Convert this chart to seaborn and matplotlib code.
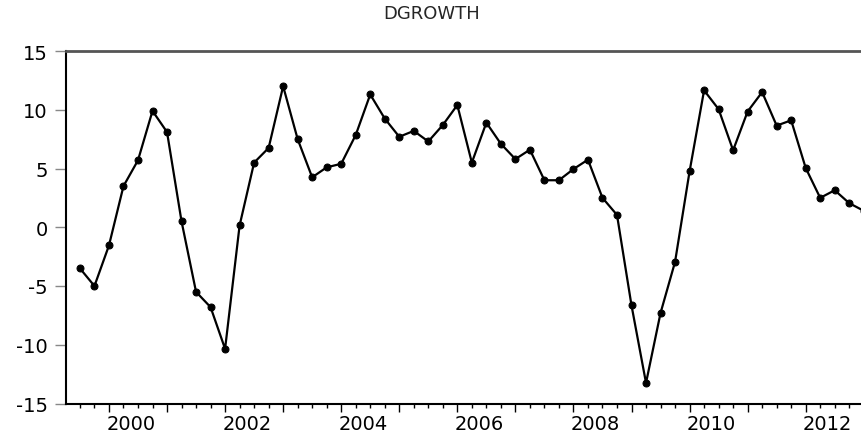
import matplotlib
matplotlib.use('Agg')
import matplotlib.pyplot as plt
import seaborn as sns
import pandas as pd
import numpy as np

# Série trimestral DGROWTH (1999T3 - 2013T1)
inicio = '1999Q3'
dgrowth = [-3.5, -5.0, -1.55, 3.5, 5.7, 9.9, 8.1, 0.5, -5.5, -6.8, -10.35, 0.15,
           5.5, 6.75, 12.0, 7.5, 4.25, 5.1, 5.4, 7.85, 11.3, 9.25, 7.7, 8.2,
           7.3, 8.7, 10.4, 5.5, 8.9, 7.1, 5.8, 6.6, 4.0, 4.0, 4.95, 5.75,
           2.5, 1.05, -6.65, -13.25, -7.3, -2.95, 4.75, 11.65, 10.05, 6.55,
           9.85, 11.5, 8.65, 9.1, 5.05, 2.5, 3.15, 2.05, 1.4]
anos_rotulo = [2000, 2002, 2004, 2006, 2008, 2010, 2012]
y_ticks = [-15, -10, -5, 0, 5, 10, 15]

trimestres = pd.period_range(inicio, periods=len(dgrowth), freq='Q')
df = pd.DataFrame({'t': trimestres.year + (trimestres.quarter - 1) / 4,
                   'DGROWTH': dgrowth})

sns.set_style('white')
plt.rcParams['font.family'] = ['DejaVu Sans']

fig = plt.figure(figsize=(8.62, 4.35), dpi=100)
ax = fig.add_axes([66 / 862, 30.5 / 435, 1 - 66 / 862, 352.5 / 435])

sns.lineplot(data=df, x='t', y='DGROWTH', ax=ax, color='black', linewidth=1.6,
             marker='o', markersize=5, markeredgecolor='black', markerfacecolor='black')

ax.set_xlim(1999.26, 2012.97)
ax.set_ylim(-15, 15)
ax.set_xlabel('')
ax.set_ylabel('')

# eixo y
ax.set_yticks(y_ticks)
ax.set_yticklabels([str(v) for v in y_ticks])
ax.tick_params(axis='y', left=True, length=8, width=1, color='#888888', pad=5,
               labelsize=14, labelcolor='black')

# eixo x: anos (longos) e trimestres (curtos), rótulos no meio do ano
ax.set_xticks(np.arange(2000, 2013))
ax.set_xticks(np.arange(1999.5, 2013, 0.25), minor=True)
ax.set_xticklabels([])
ax.tick_params(axis='x', which='major', bottom=True, length=5.5, width=1, color='black')
ax.tick_params(axis='x', which='minor', bottom=True, length=3, width=1, color='black')
for ano in anos_rotulo:
    ax.annotate(str(ano), xy=(ano + 0.375, 0), xycoords=('data', 'axes fraction'),
                xytext=(0, -11), textcoords='offset pixels', ha='center', va='top',
                fontsize=14, color='black', annotation_clip=False)

for lado in ['left', 'bottom']:
    ax.spines[lado].set_color('black')
    ax.spines[lado].set_linewidth(1.5)
ax.spines['top'].set_color('#555555')
ax.spines['top'].set_linewidth(2)
ax.spines['right'].set_visible(False)

fig.text(432 / 862, 1 - 14 / 435, 'DGROWTH', ha='center', va='center', fontsize=13)

plt.savefig('out.png', dpi=100)
plt.close()
